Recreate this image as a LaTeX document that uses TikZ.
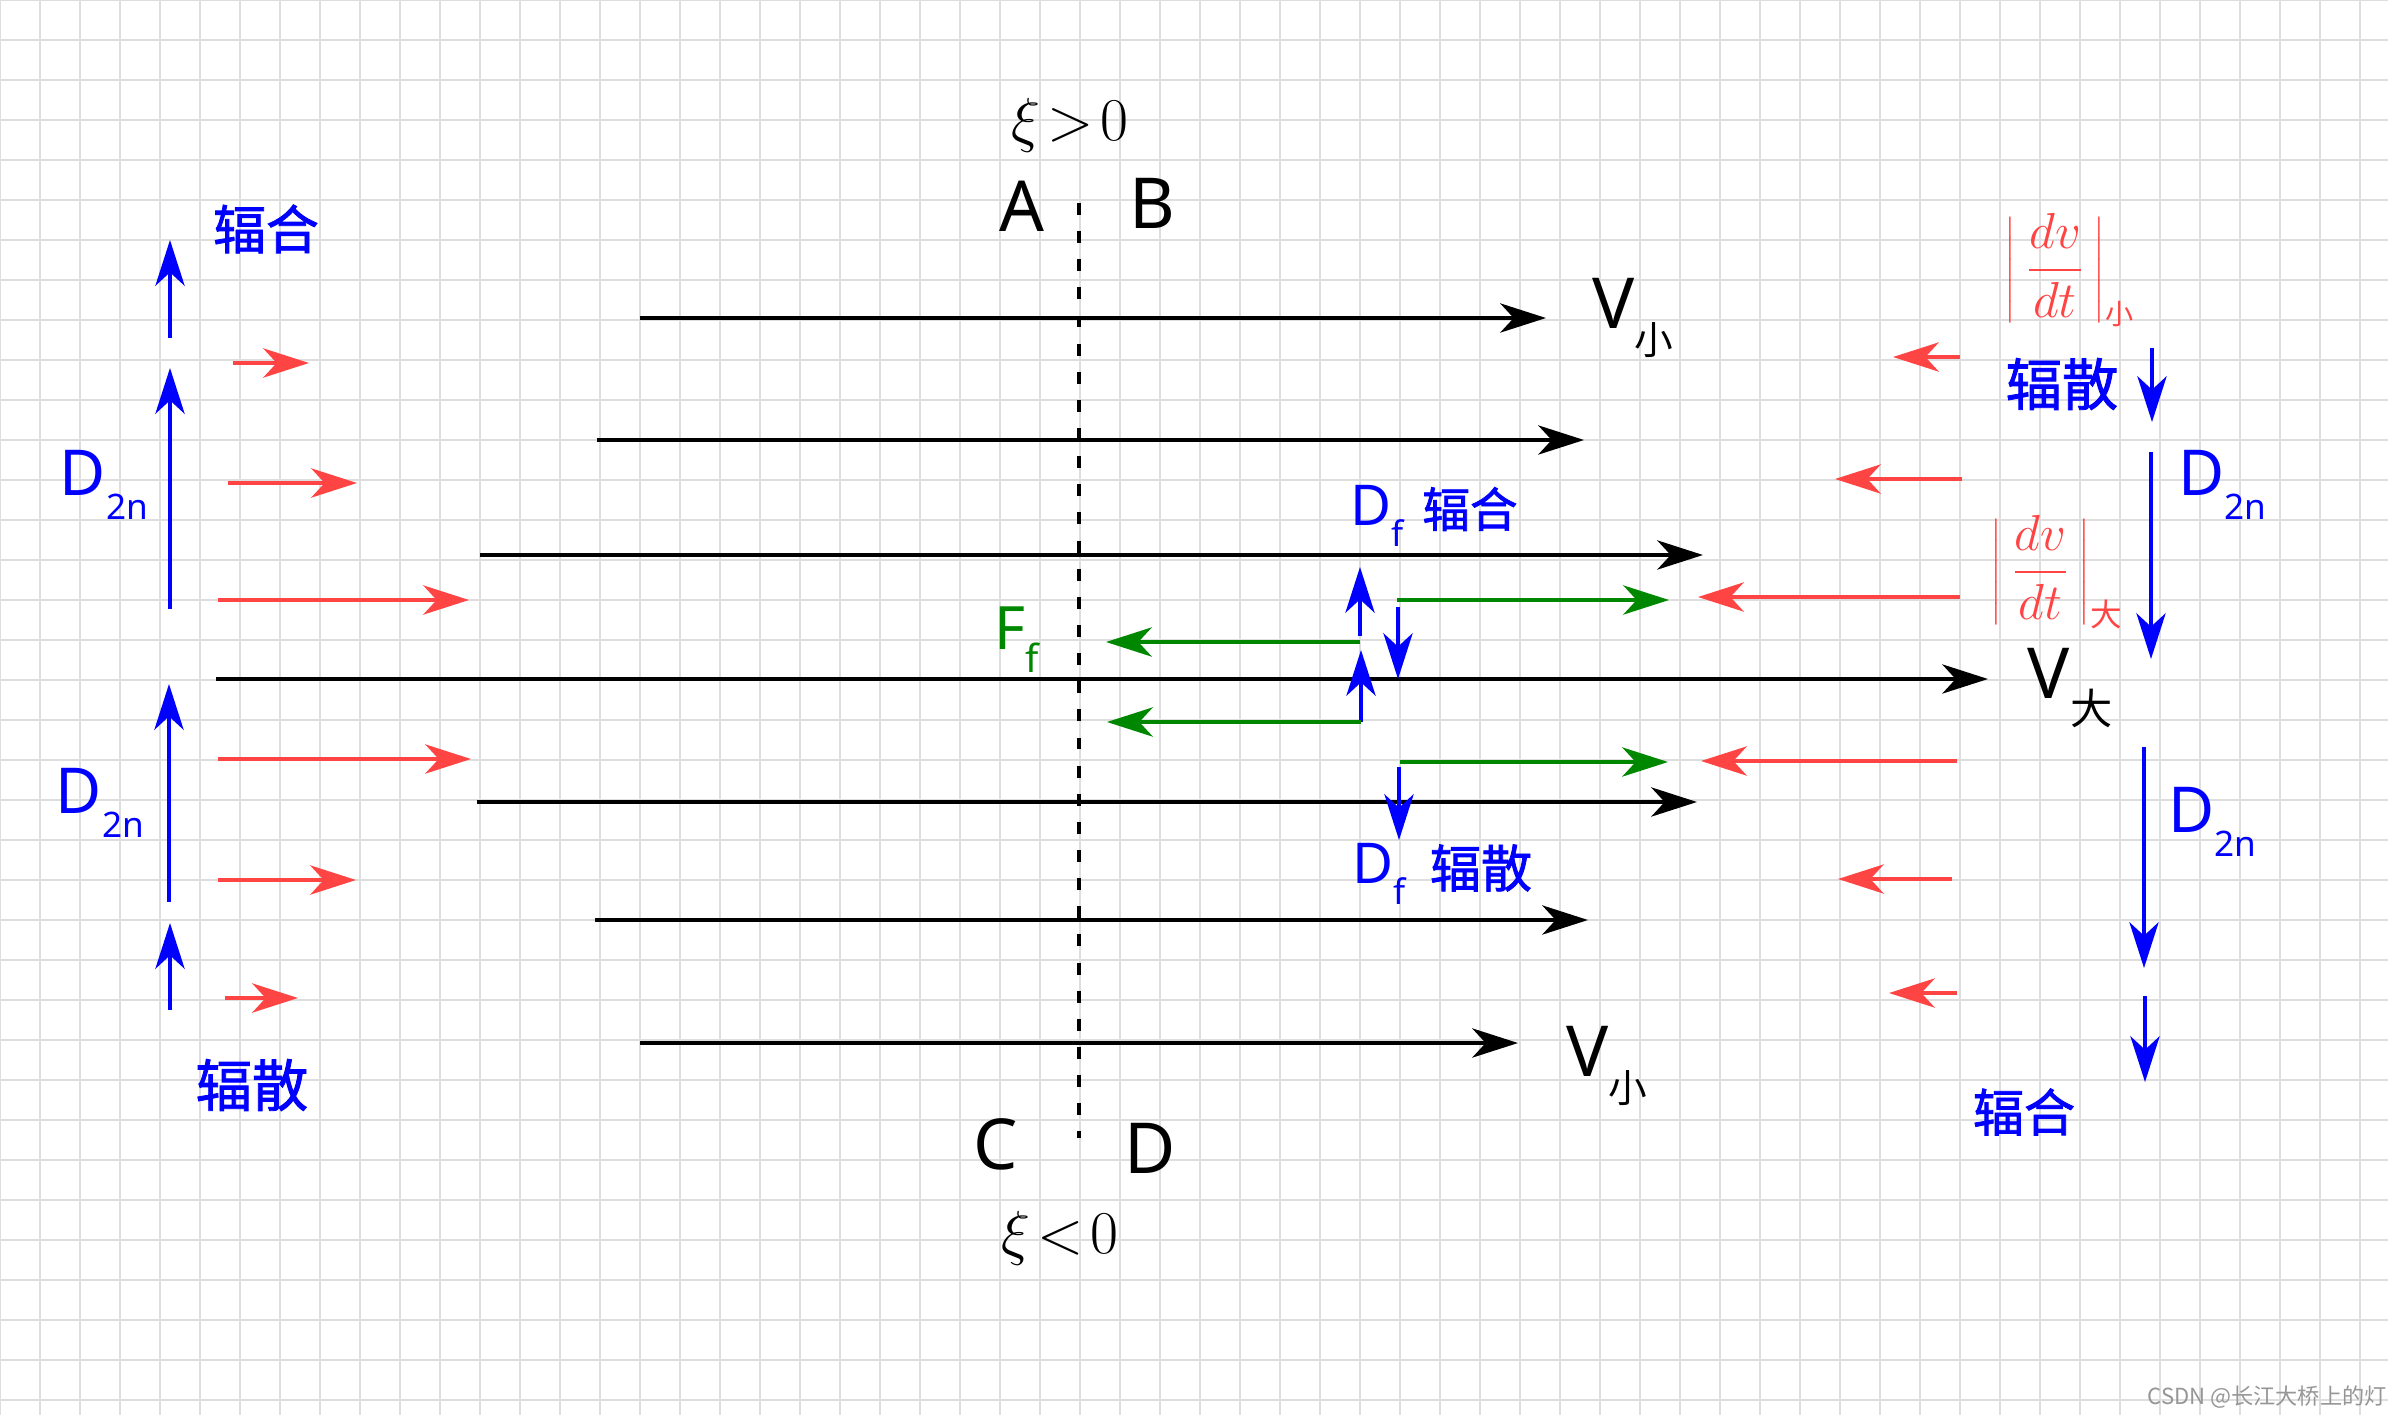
\documentclass[tikz,border=0pt]{standalone}
\usepackage{fontspec}
\setmainfont{Noto Sans}
\newfontfamily\cjk{Noto Sans CJK SC}
\newfontfamily\cjkb[FakeBold=1.5]{Noto Sans CJK SC}
\usetikzlibrary{arrows.meta}
\definecolor{myred}{RGB}{255,68,68}
\definecolor{myblue}{RGB}{0,0,255}
\definecolor{mygreen}{RGB}{0,135,0}
\definecolor{gridc}{RGB}{222,222,222}
\definecolor{wmark}{RGB}{150,150,150}
\newcommand\lowsub[2]{\raisebox{-0.38em}{\fontsize{#1}{#1}\selectfont #2}}
\begin{document}
\begin{tikzpicture}[x=0.01cm,y=-0.01cm,
  tipped/.style={-{Stealth[length=13pt,width=8.3pt,inset=3.8pt]}},
  blackarrow/.style={tipped,line width=1.15pt,black},
  redarrow/.style={tipped,line width=1.15pt,myred},
  bluearrow/.style={tipped,line width=1.15pt,myblue},
  greenarrow/.style={tipped,line width=1.15pt,mygreen},
  gridline/.style={line width=0.55pt,gridc},
  lab/.style={inner sep=0pt,font=\fontsize{20}{20}\selectfont},
  dlab/.style={inner sep=0pt,text=myblue,font=\fontsize{18}{18}\selectfont},
  cjklab/.style={inner sep=0pt,text=myblue},
  dashline/.style={line width=1.15pt,black,dash pattern=on 3.4pt off 4.6pt}
]
\useasboundingbox (0,0) rectangle (2388,1415);
\fill[white] (0,0) rectangle (2388,1415);
% grid
\foreach \k in {0,...,59} \draw[gridline] (\k*40,0) -- (\k*40,1415);
\foreach \k in {0,...,35} \draw[gridline] (0,\k*40) -- (2388,\k*40);

% dashed divider
\coordinate (dtop) at (1079,203);
\coordinate (dbot) at (1079,1138);
\draw[dashline] (dtop) -- (dbot);

% black velocity arrows
\foreach \i/\y/\a/\b in {1/318/640/1546, 2/440/597/1584, 3/555/480/1703, 4/679/216/1988, 5/802/477/1697, 6/920/595/1588, 7/1043/640/1518}{
  \coordinate (bk\i s) at (\a,\y);
  \coordinate (bk\i e) at (\b,\y);
  \draw[blackarrow] (bk\i s) -- (bk\i e);
}

% red arrows, left side (pointing right)
\foreach \i/\y/\a/\b in {1/363/233/309, 2/483/228/357, 3/600/218/469, 4/759/218/471, 5/880/218/356, 6/998/225/298}{
  \coordinate (rl\i s) at (\a,\y);
  \coordinate (rl\i e) at (\b,\y);
  \draw[redarrow] (rl\i s) -- (rl\i e);
}

% red arrows, right side (pointing left)
\foreach \i/\y/\a/\b in {1/357/1960/1893, 2/479/1962/1835, 3/597/1960/1698, 4/761/1957/1701, 5/879/1952/1838, 6/993/1957/1889}{
  \coordinate (rr\i s) at (\a,\y);
  \coordinate (rr\i e) at (\b,\y);
  \draw[redarrow] (rr\i s) -- (rr\i e);
}

% blue arrows, left side (up)
\foreach \i/\x/\a/\b in {1/170/338/240, 2/170/609/368, 3/169/902/684, 4/170/1010/923}{
  \coordinate (bl\i s) at (\x,\a);
  \coordinate (bl\i e) at (\x,\b);
  \draw[bluearrow] (bl\i s) -- (bl\i e);
}

% blue arrows, right side (down)
\foreach \i/\x/\a/\b in {1/2152/348/422, 2/2151/452/659, 3/2144/747/968, 4/2145/996/1082}{
  \coordinate (br\i s) at (\x,\a);
  \coordinate (br\i e) at (\x,\b);
  \draw[bluearrow] (br\i s) -- (br\i e);
}

% middle blue arrows
\foreach \i/\x/\a/\b in {1/1360/636/567, 2/1361/722/650, 3/1398/607/679, 4/1399/767/840}{
  \coordinate (bm\i s) at (\x,\a);
  \coordinate (bm\i e) at (\x,\b);
  \draw[bluearrow] (bm\i s) -- (bm\i e);
}

% green arrows
\foreach \i/\y/\a/\b in {1/600/1397/1669, 2/642/1360/1106, 3/722/1361/1107, 4/762/1400/1668}{
  \coordinate (g\i s) at (\a,\y);
  \coordinate (g\i e) at (\b,\y);
  \draw[greenarrow] (g\i s) -- (g\i e);
}

% labels
\node[lab,font=\fontsize{17}{17}\selectfont] (xipos) at (1070,125) {$\xi\!>\!0$};
\node[lab] (labA) at (1022,206) {A};
\node[lab] (labB) at (1152,203) {B};
\node[lab] (labC) at (996,1144) {C};
\node[lab] (labD) at (1150,1148) {D};
\node[lab,font=\fontsize{17}{17}\selectfont] (xineg) at (1060,1238) {$\xi\!<\!0$};

\node[lab] (vsmall1) at (1633,318) {V\lowsub{11}{\cjk 小}};
\node[lab] (vsmall2) at (1607,1066) {V\lowsub{11}{\cjk 小}};
\node[lab] (vbig) at (2070,688) {V\lowsub{12}{\cjk 大}};

\node[dlab] (dl1) at (104,485) {D\lowsub{10}{2n}};
\node[dlab] (dl2) at (100,803) {D\lowsub{10}{2n}};
\node[dlab] (dr1) at (2222,485) {D\lowsub{10}{2n}};
\node[dlab] (dr2) at (2212,822) {D\lowsub{10}{2n}};

\node[cjklab,font=\cjkb\fontsize{15}{15}\selectfont] (fhl) at (266,229) {辐合};
\node[cjklab,font=\cjkb\fontsize{16}{16}\selectfont] (fsl) at (252,1085) {辐散};
\node[cjklab,font=\cjkb\fontsize{16}{16}\selectfont] (fsr) at (2062,384) {辐散};
\node[cjklab,font=\cjkb\fontsize{14.5}{14.5}\selectfont] (fhr) at (2024,1112) {辐合};

\node[dlab,font=\fontsize{16}{16}\selectfont] (df1) at (1377,516) {D\lowsub{10}{f}};
\node[cjklab,font=\cjkb\fontsize{13.5}{13.5}\selectfont] (fhm) at (1470,509) {辐合};
\node[dlab,font=\fontsize{16}{16}\selectfont] (df2) at (1379,874) {D\lowsub{10}{f}};
\node[cjklab,font=\cjkb\fontsize{14.5}{14.5}\selectfont] (fsm) at (1481,868) {辐散};

\node[lab,text=mygreen,font=\fontsize{17}{17}\selectfont] (ff) at (1017,640) {F\lowsub{11}{f}};

\node[inner sep=0pt,text=myred,font=\fontsize{14}{14}\selectfont] (dvs) at (2070,270)
  {$\displaystyle\left|\,\frac{dv}{dt}\,\right|_{\hbox{\cjk\fontsize{8}{8}\selectfont 小}}$};
\node[inner sep=0pt,text=myred,font=\fontsize{14}{14}\selectfont] (dvb) at (2057,572)
  {$\displaystyle\left|\,\frac{dv}{dt}\,\right|_{\hbox{\cjk\fontsize{9}{9}\selectfont 大}}$};

\node[inner sep=0pt,text=wmark,font=\cjk\fontsize{6.3}{6.3}\selectfont] (wm) at (2267,1397) {CSDN @长江大桥上的灯};
\end{tikzpicture}
\end{document}
